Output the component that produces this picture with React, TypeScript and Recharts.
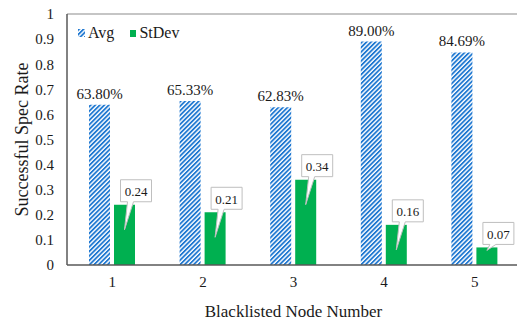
import { BarChart, Bar, XAxis, YAxis, LabelList, ReferenceLine, Label } from 'recharts'

const nodes = ['1', '2', '3', '4', '5']
const avgRate = [0.638, 0.6533, 0.6283, 0.89, 0.8469]
const stdevRate = [0.24, 0.21, 0.34, 0.16, 0.07]
const yTicks = [0, 0.1, 0.2, 0.3, 0.4, 0.5, 0.6, 0.7, 0.8, 0.9, 1]

const data = nodes.map((n, i) => ({ node: n, avg: avgRate[i], stdev: stdevRate[i] }))

const FONT = '"Liberation Serif", "Times New Roman", serif'
const BLUE = '#1f78d1'
const GREEN = '#00b050'

const Callout = (props: any) => {
  const { x, y, width, height, value } = props
  const cx = x + width / 2
  const left = cx - 4
  const w = 31
  const h = 22
  const bottom = y - 3
  const top = bottom - h
  const tipY = height > 30 ? y + 25 : y + 3
  const d = `M${left},${top} H${left + w} V${bottom} H${left + 13} L${cx},${tipY} L${left + 7},${bottom} H${left} Z`
  return (
    <g>
      <path d={d} fill="#fff" stroke="#bfbfbf" strokeWidth={1} />
      <text
        x={left + w / 2}
        y={top + h / 2 + 1}
        textAnchor="middle"
        dominantBaseline="central"
        fontSize={13}
        fontFamily={FONT}
        fill="#1a1a1a"
      >
        {Number(value).toFixed(2)}
      </text>
    </g>
  )
}

// legend sits inside the plot, top-left, like the original
const LegendBox = () => (
  <div
    style={{
      position: 'absolute',
      left: 78,
      top: 24,
      display: 'flex',
      alignItems: 'center',
      fontFamily: FONT,
      fontSize: 16,
      lineHeight: '18px',
      color: '#1a1a1a',
    }}
  >
    <svg width={7} height={8} style={{ marginRight: 3 }}>
      <rect width={7} height={8} fill="url(#hatch)" />
    </svg>
    <span style={{ marginRight: 16 }}>Avg</span>
    <svg width={6} height={7} style={{ marginRight: 3 }}>
      <rect width={6} height={7} fill={GREEN} />
    </svg>
    <span>StDev</span>
  </div>
)

export default function App() {
  return (
    <div style={{ position: 'absolute', left: 0, top: 0, width: 517, height: 323, overflow: 'hidden', background: '#fff' }}>
      <BarChart
        width={520}
        height={323}
        data={data}
        margin={{ top: 14, right: 0, bottom: 0, left: 0 }}
        barSize={21}
        barGap={4}
      >
        <defs>
          <pattern id="hatch" patternUnits="userSpaceOnUse" width={3.2} height={3.2} patternTransform="rotate(45)">
            <rect width={3.2} height={3.2} fill="#fff" />
            <rect width={1.8} height={3.2} fill={BLUE} />
          </pattern>
        </defs>
        <ReferenceLine y={1} stroke="#8c8c8c" strokeWidth={1.2} />
        <XAxis
          dataKey="node"
          height={58}
          tickLine={false}
          tickMargin={5}
          axisLine={{ stroke: '#595959', strokeWidth: 1.5 }}
          tick={{ fill: '#1a1a1a', fontSize: 15, fontFamily: FONT }}
        >
          <Label
            value="Blacklisted Node Number"
            position="insideBottom"
            offset={6}
            style={{ fill: '#1a1a1a', fontSize: 17, fontFamily: FONT }}
          />
        </XAxis>
        <YAxis
          width={67}
          domain={[0, 1]}
          ticks={yTicks}
          interval={0}
          tickLine={false}
          tickMargin={7}
          axisLine={{ stroke: '#595959', strokeWidth: 1.5 }}
          tick={{ fill: '#1a1a1a', fontSize: 15, fontFamily: FONT }}
          tickFormatter={(v: number) => String(Number(v.toFixed(1)))}
        >
          <Label
            content={(p: any) => {
              const vb = p.viewBox || { x: 0, y: 14, height: 251 }
              const cx = vb.x + 22
              const cy = vb.y + vb.height / 2
              return (
                <text
                  x={cx}
                  y={cy}
                  transform={`rotate(-90 ${cx} ${cy})`}
                  textAnchor="middle"
                  dominantBaseline="central"
                  fontSize={18}
                  fontFamily={FONT}
                  fill="#1a1a1a"
                >
                  Successful Spec Rate
                </text>
              )
            }}
          />
        </YAxis>
        <Bar dataKey="avg" name="Avg" fill="url(#hatch)" isAnimationActive={false}>
          <LabelList
            dataKey="avg"
            position="top"
            offset={6}
            formatter={(v: any) => `${(Number(v) * 100).toFixed(2)}%`}
            style={{ fill: '#1a1a1a', fontSize: 15, fontFamily: FONT }}
          />
        </Bar>
        <Bar dataKey="stdev" name="StDev" fill={GREEN} isAnimationActive={false}>
          <LabelList dataKey="stdev" content={<Callout />} />
        </Bar>
      </BarChart>
      <LegendBox />
    </div>
  )
}
